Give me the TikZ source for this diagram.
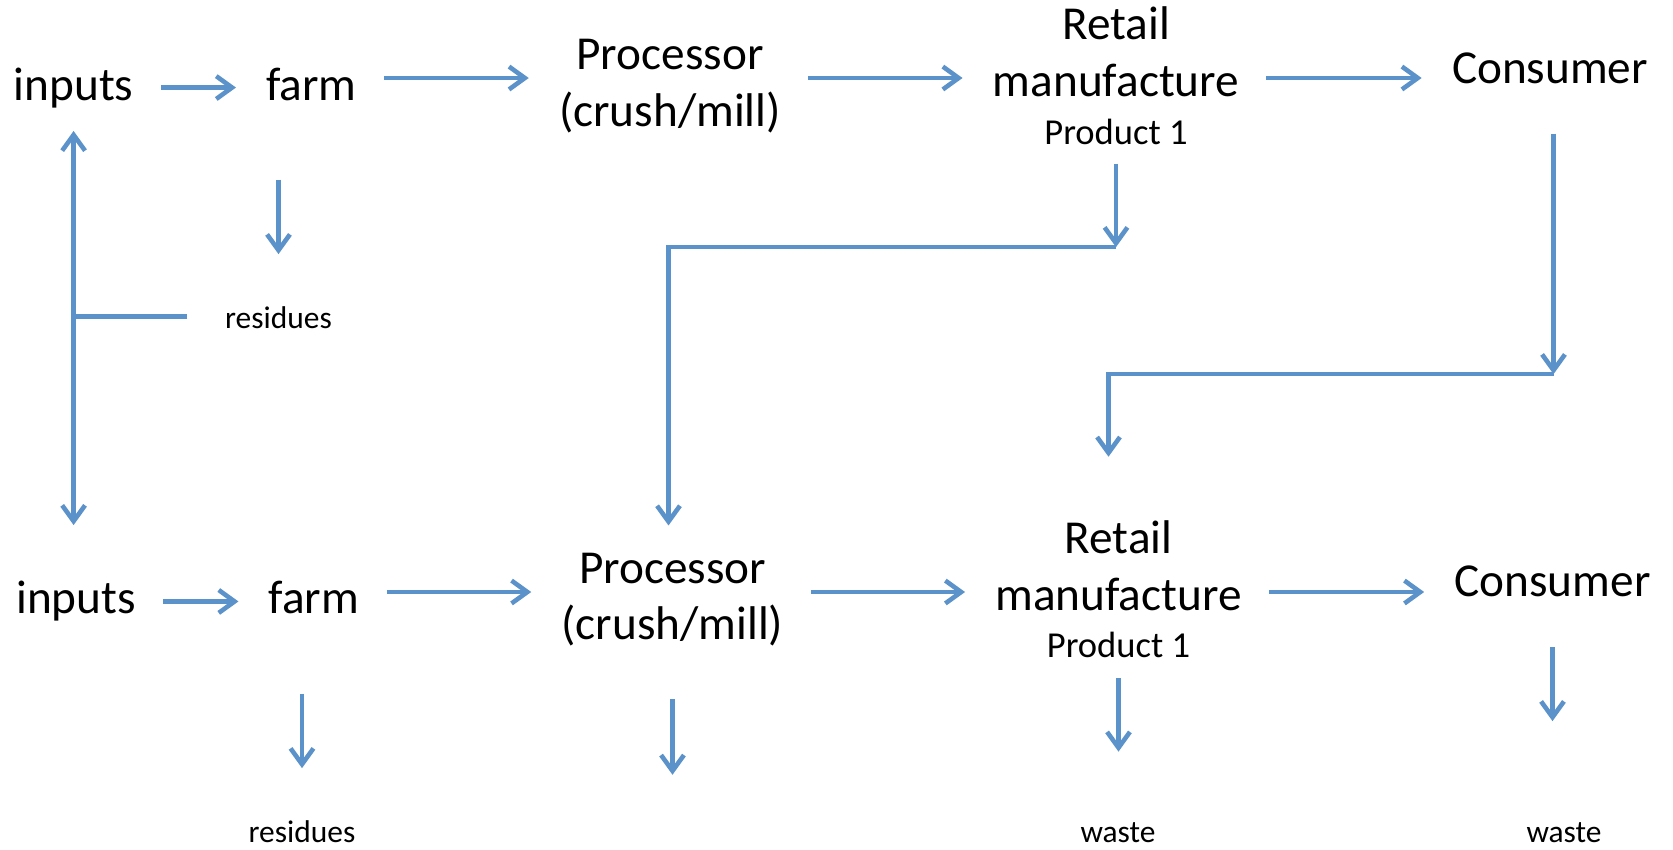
\documentclass[tikz,border=0pt]{standalone}
\usepackage{fontspec}
\setmainfont{Carlito}
\usetikzlibrary{arrows.meta}
\usetikzlibrary{positioning}
\definecolor{flowblue}{RGB}{92,146,202}
\newcommand\prodsize{\fontsize{20.8}{25}\selectfont}
\tikzset{
>={Straight Barb[length=9pt,width=13pt]}, % open barbs everywhere
flow/.style={draw=flowblue,line width=2.6pt,->},
chain/.style={flow,shorten <=0.54cm,shorten >=0.6cm},
stage/.style={anchor=base,inner sep=0pt,align=center,font=\fontsize{26.9}{32.3}\selectfont},
outflow/.style={anchor=base,inner sep=0pt,text height=13.4pt,font=\fontsize{17.9}{21}\selectfont},
}

\begin{document}
\begin{tikzpicture}[x=0.02cm,y=-0.02cm]
\useasboundingbox (0,0) rectangle (1673,849);

\node[stage] (inputs1) at (73.6,100) {inputs};
\node[stage] (farm1)   at (311.5,100) {farm};
\node[stage] (proc1)   at (670,126) {Processor\\(crush/mill)};
\node[stage] (retail1) at (1116,144) {Retail\\manufacture\\[-5.4pt]{\prodsize Product 1}};
\node[stage] (cons1)   at (1550,83) {Consumer};
\node[outflow] (res1)  at (278.5,328) {residues};

\node[stage] (inputs2) [on grid,below=10.28cm of inputs1,xshift=0.05cm] {inputs};
\node[stage] (farm2)   [on grid,below=10.28cm of farm1,xshift=0.05cm] {farm};
\node[stage] (proc2)   [on grid,below=10.28cm of proc1,xshift=0.05cm] {Processor\\(crush/mill)};
\node[stage] (retail2) [on grid,below=10.28cm of retail1,xshift=0.05cm] {Retail\\manufacture\\[-5.4pt]{\prodsize Product 1}};
\node[stage] (cons2)   [on grid,below=10.28cm of cons1,xshift=0.05cm] {Consumer};
\node[outflow] (res2)   at (302,842) {residues};
\node[outflow] (waste1) at (1118,842) {waste};
\node[outflow] (waste2) at (1564,842) {waste};

\coordinate (lane1) at (0,78);
\coordinate (lane2) at (0,592);
\coordinate[below=2.05cm of retail1.south] (turn1);
\coordinate[below=5.81cm of cons1.south,xshift=0.07cm] (turn2);
\coordinate[below=2.56cm of proc2.south] (proc2out);

% upper chain
\draw[chain] (inputs1.east) -- (inputs1.east -| farm1.west);
\draw[chain] (farm1.east |- lane1) -- (proc1.west |- lane1);
\draw[chain] (proc1.east |- lane1) -- (retail1.west |- lane1);
\draw[chain] (retail1.east |- lane1) -- (cons1.west |- lane1);
\draw[flow,shorten <=1.58cm,shorten >=1cm] (farm1.south -| res1.north) -- (res1.north);
\draw[flow,<->,shorten <=0.46cm,shorten >=1.12cm] (inputs1.south) -- (inputs1.south |- inputs2.north);
\draw[flow,-,shorten <=0.75cm] (res1.west) -- (res1.west -| inputs1.south);

% feedback into the lower chain
\draw[flow,shorten <=0.38cm] (retail1.south) -- (turn1);
\draw[flow,shorten >=0.54cm] (turn1) -| ([xshift=-0.08cm]proc2.north);
\draw[flow,shorten <=1cm] (cons1.south -| turn2) -- (turn2);
\draw[flow,shorten >=1.28cm] (turn2) -| ([xshift=-0.2cm]retail2.north);

% lower chain
\draw[chain] (inputs2.east) -- (inputs2.east -| farm2.west);
\draw[chain] (farm2.east |- lane2) -- (proc2.west |- lane2);
\draw[chain] (proc2.east |- lane2) -- (retail2.west |- lane2);
\draw[chain] (retail2.east |- lane2) -- (cons2.west |- lane2);
\draw[flow,shorten <=1.58cm,shorten >=1cm] (farm2.south -| res2.north) -- (res2.north);
\draw[flow,shorten <=1.04cm] (proc2.south) -- (proc2out);
\draw[flow,shorten <=0.39cm,shorten >=1.33cm] (retail2.south) -- (retail2.south |- waste1.north);
\draw[flow,shorten <=0.99cm,shorten >=1.94cm] (cons2.south) -- (cons2.south |- waste2.north);
\end{tikzpicture}
\end{document}
